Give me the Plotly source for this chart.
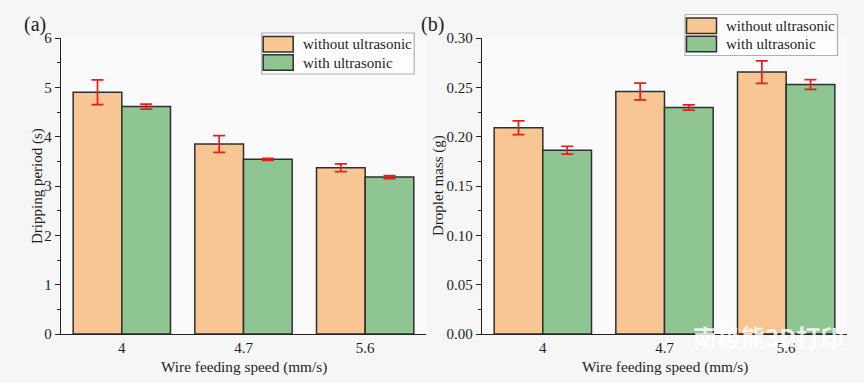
import plotly.graph_objects as go

categories = ["4", "4.7", "5.6"]
series_names = ["without ultrasonic", "with ultrasonic"]

period_without = [4.90, 3.85, 3.37]
period_without_err = [0.25, 0.17, 0.08]
period_with = [4.61, 3.54, 3.18]
period_with_err = [0.05, 0.02, 0.03]

mass_without = [0.209, 0.2458, 0.2655]
mass_without_err = [0.007, 0.0085, 0.0114]
mass_with = [0.1863, 0.2295, 0.2529]
mass_with_err = [0.004, 0.0027, 0.005]

a_ticks = [0, 1, 2, 3, 4, 5, 6]
b_ticks = [0.0, 0.05, 0.10, 0.15, 0.20, 0.25, 0.30]
b_ticklabels = ["0.00", "0.05", "0.10", "0.15", "0.20", "0.25", "0.30"]

ORANGE = "#F8C692"
GREEN = "#8FC593"
EDGE = "#2f2f2f"
RED = "#ee1c1c"
FONT = "Liberation Serif"
TXT = "#1e1e1e"

fig = go.Figure()

def add_bars(vals, errs, color, name, xa, ya):
    fig.add_trace(go.Bar(
        x=categories, y=vals, name=name, xaxis=xa, yaxis=ya,
        marker=dict(color=color, line=dict(color=EDGE, width=1.5)),
        error_y=dict(type="data", array=errs, visible=True, color=RED,
                     thickness=1.7, width=6),
        showlegend=False,
    ))

add_bars(period_without, period_without_err, ORANGE, series_names[0], "x", "y")
add_bars(period_with, period_with_err, GREEN, series_names[1], "x", "y")
add_bars(mass_without, mass_without_err, ORANGE, series_names[0], "x2", "y2")
add_bars(mass_with, mass_with_err, GREEN, series_names[1], "x2", "y2")

W, H = 864, 383
xa_dom = [61 / W, 426 / W]
xb_dom = [482 / W, 847 / W]
y_dom = [(H - 334) / H, (H - 38) / H]

def px(x):
    return x / W

def py(y):
    return 1 - y / H

axis_common = dict(showline=True, linecolor="#222", linewidth=1.3,
                   tickfont=dict(family=FONT, size=15, color=TXT),
                   showgrid=False, zeroline=False, automargin=False)

fig.update_layout(
    width=W, height=H, autosize=False,
    margin=dict(l=0, r=0, t=0, b=0, pad=0, autoexpand=False),
    paper_bgcolor="#f6f6f6", plot_bgcolor="#fafafa",
    barmode="group", bargap=0.2, bargroupgap=0,
    font=dict(family=FONT, size=15, color=TXT),
    showlegend=False,
    xaxis=dict(domain=xa_dom, anchor="y", range=[-0.5, 2.5], ticks="", **axis_common),
    yaxis=dict(domain=y_dom, anchor="x", range=[0, 6], tickvals=a_ticks,
               ticks="outside", ticklen=5, tickcolor="#222",
               minor=dict(ticks="outside", ticklen=3, dtick=0.5, tickcolor="#222"),
               **axis_common),
    xaxis2=dict(domain=xb_dom, anchor="y2", range=[-0.5, 2.5], ticks="", **axis_common),
    yaxis2=dict(domain=y_dom, anchor="x2", range=[0, 0.30], tickvals=b_ticks,
                ticktext=b_ticklabels,
                ticks="outside", ticklen=5, tickcolor="#222",
                minor=dict(ticks="outside", ticklen=3, dtick=0.025, tickcolor="#222"),
                **axis_common),
)

def add_legend(x0, y0):
    fig.add_shape(type="rect", xref="paper", yref="paper",
                  x0=px(x0), x1=px(x0 + 152.5), y0=py(y0), y1=py(y0 + 41),
                  line=dict(color="#b0b0b0", width=1.2), fillcolor="rgba(255,255,255,0.5)")
    for i, (color, name) in enumerate([(ORANGE, series_names[0]), (GREEN, series_names[1])]):
        top = y0 + 3.5 + i * 18.3
        fig.add_shape(type="rect", xref="paper", yref="paper",
                      x0=px(x0 + 1.5), x1=px(x0 + 31.5), y0=py(top), y1=py(top + 15.5),
                      line=dict(color=EDGE, width=1.5), fillcolor=color)
        fig.add_annotation(text=name, xref="paper", yref="paper",
                           x=px(x0 + 39), y=py(top + 8), xanchor="left", yanchor="middle",
                           showarrow=False, font=dict(family=FONT, size=15, color=TXT))

add_legend(261.7, 33)
add_legend(685, 14.5)

for txt, x in [("(a)", 22), ("(b)", 419)]:
    fig.add_annotation(text=txt, xref="paper", yref="paper",
                       x=px(x), y=py(25), xanchor="left", yanchor="middle",
                       showarrow=False, font=dict(family=FONT, size=20, color=TXT))

for xc in [243.5, 664.5]:
    fig.add_annotation(text="Wire feeding speed (mm/s)", xref="paper", yref="paper",
                       x=px(xc), y=py(367), xanchor="center", yanchor="middle", showarrow=False,
                       font=dict(family=FONT, size=15.3, color=TXT))
for txt, xc in [("Dripping period (s)", 37), ("Droplet mass (g)", 438)]:
    fig.add_annotation(text=txt, xref="paper", yref="paper", x=px(xc), y=py(186),
                       xanchor="center", yanchor="middle", showarrow=False, textangle=-90,
                       font=dict(family=FONT, size=15, color=TXT))

fig.add_annotation(text="<b>南极熊3D打印</b>", xref="paper", yref="paper", x=px(768), y=py(336),
                   xanchor="center", yanchor="middle", showarrow=False,
                   font=dict(family="Noto Sans CJK SC", size=24, color="rgba(255,255,255,0.82)"))

fig.write_html("out.html", config={"displayModeBar": False},
               post_script="document.body.style.margin='0';document.body.style.overflow='hidden';")
